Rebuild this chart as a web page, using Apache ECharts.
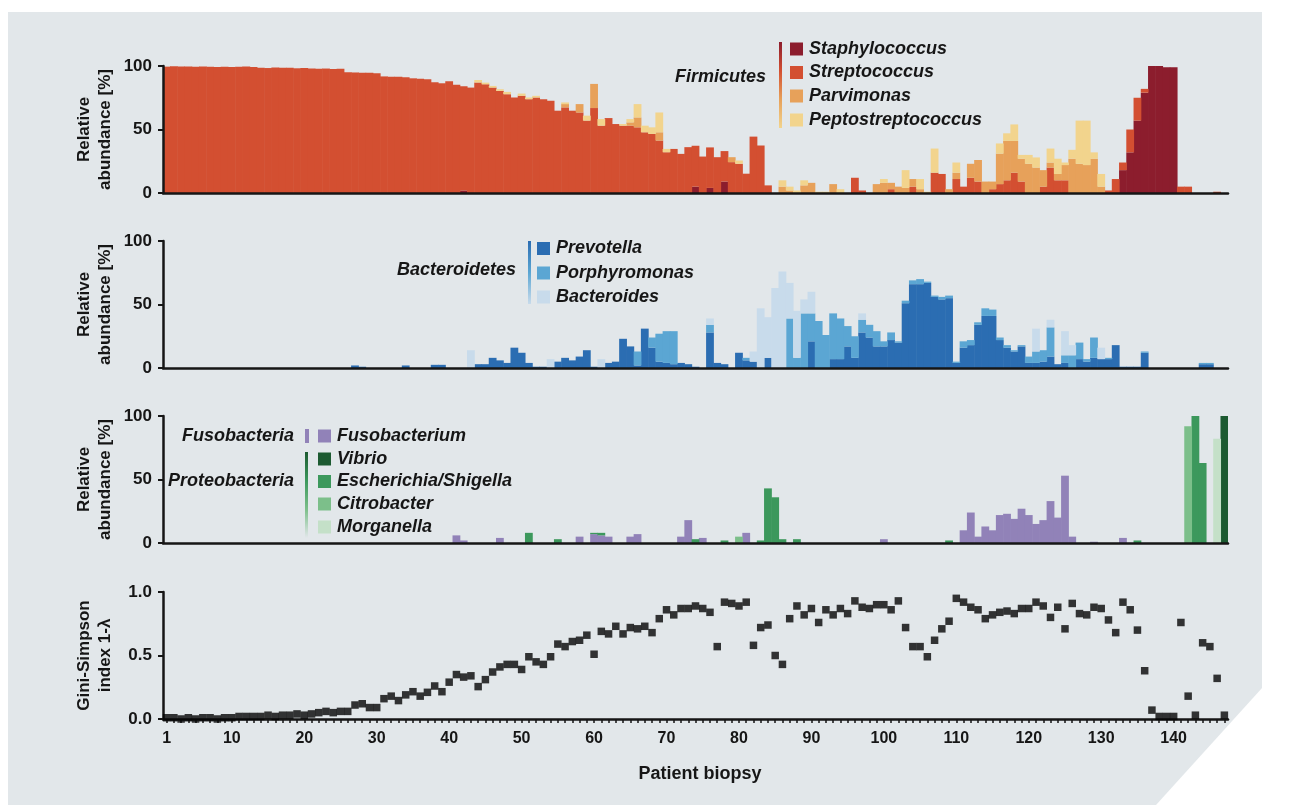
<!DOCTYPE html>
<html>
<head>
<meta charset="utf-8">
<title>Relative abundance and Gini-Simpson index per patient biopsy</title>
<script src="https://cdn.jsdelivr.net/npm/echarts@6/dist/echarts.min.js"></script>
<style>
  html, body { margin: 0; padding: 0; background: #ffffff; }
  #chart { width: 1290px; height: 805px; }
</style>
</head>
<body>
<div id="chart"></div>
<script>
// ---- Data: one value per patient biopsy (1..147), relative abundance in % ----
const biopsies = Array.from({ length: 147 }, (_, i) => String(i + 1));

// Firmicutes
const staphylococcus = [
  0,0,0,0,0,0,0,0,0,0,          // 1-10
  0,0,0,0,0,0,0,0,0,0,          // 11-20
  0,0,0,0,0,0,0,0,0,0,          // 21-30
  0,0,0,0,0,0,0,0,0,0,          // 31-40
  0,2,0,0,0,0,0,0,0,0,          // 41-50
  0,0,0,0,0,0,0,0,0,0,          // 51-60
  0,0,0,0,0,0,0,0,0,0,          // 61-70
  0,0,0,5,0,4,0,9,0,0,          // 71-80
  0,0,0,0,0,0,0,0,0,0,          // 81-90
  0,0,0,0,0,0,0,0,0,0,          // 91-100
  0,0,0,0,0,0,0,0,0,0,          // 101-110
  0,0,0,0,0,0,0,0,0,0,          // 111-120
  0,0,0,0,0,0,0,0,0,0,          // 121-130
  0,0,18,32,57,79,100,100,99,99,// 131-140
  0,0,0,0,0,0,0                 // 141-147
];
const streptococcus = [
  99.5,99.8,99.6,99.7,99.5,99.6,99.4,99.3,99.5,99.2,
  99.4,99.6,99.3,98.6,98.4,98.8,98.7,98.6,98.2,98.4,
  98.1,97.9,98.0,97.7,97.9,95.0,94.9,94.7,94.6,94.3,
  91.8,91.6,91.5,91.2,90.3,90.0,89.6,87.3,86.4,88.0,
  85.2,82.0,83.0,87.0,85.6,83.0,80.4,77.8,75.2,76.5,
  73.9,75.2,73.9,72.6,64.8,67.4,64.8,63.4,57.0,66.9,
  53.0,59.0,54.3,53.0,53.0,51.7,47.8,46.5,41.3,32.1,
  34.7,30.8,36.1,32.2,28.7,31.9,28.2,24.0,24.3,23.0,
  15.2,44.4,37.4,6.0,0,0,0,0,0,0,
  0,0,0,0,0,12,2,0,0,0,
  3,0,0,5,0,0,16,15,0,11,
  5,12,9,0,3,7,10,16,9,0,
  0,5,20,10,10,0,0,0,0,0,
  2,11,6,18,18,3,0,0,0,0,
  5,5,0,0,0,1,0
];
const parvimonas = [
  0,0,0,0,0,0,0,0,0,0,
  0,0,0,0,0,0,0,0,0,0,
  0,0,0,0,0,0,0,0,0,0,
  0,0,0,0,0,0,0,0,0,0,
  0,0,0,0,0,0,0,0,0,0,
  0,0,0,0,0,2.6,0,6.6,0,19,
  0,0,0,0,2.6,7.8,0,0,6.5,0,
  0,0,0,0,0,0,0,0,3.9,0,
  0,0,0,0,0,5,2,0,6,8,
  0,0,7,0,0,0,0,0,7,8,
  5,5,4,6,3,0,0,0,3,5,
  0,11,17,9,6,24,31,25,18,23,
  20,13,4,5,12,27,23,22,27,5,
  0,0,0,0,0,0,0,0,0,0,
  0,0,0,0,0,0,0
];
const peptostreptococcus = [
  0,0,0,0,0,0,0,0,0,0,
  0,0,0,0,0,0,0,0,0,0,
  0,0,0,0,0,0,0,0,0,0,
  0,0,0,0,0,0,0,0,0,0,
  0,0,0,2,1.3,1.3,1.3,1.8,0,1.8,
  1.3,1.3,0,0,0,1.3,0,0,3.9,0,
  5.2,0,0,1.3,2.6,10.5,5.2,5.2,15.6,2.6,
  0,0,0,0,0,0,0,0,0,2.6,
  0,0,0,0,0,5,3,2,4,0,
  1,1,0,3,0,0,0,0,0,3,
  0,0,14,0,8,1,19,0,0,8,
  0,0,0,0,0,8,6,13,3,7,
  8,0,11,12,2,7,34,35,5,10,
  0,0,0,0,0,0,0,0,0,0,
  0,0,0,0,0,0,0
];

// Bacteroidetes
const prevotella = [
  0,0,0,0,0,0,0,0,0,0,
  0,0,0,0,0,0,0,0,0,0,
  0,0,0,0,0,0,2,1,0,0,
  0,0,0,2,0,0,0,2.5,2.5,0,
  0,0,0,3,3,8,6,4,16,12,
  4,1,1,0,5,8,6,9,14,1,
  0,4,5,23,17,2,31,16,5,4,
  3,4,3,1,0,28,4,3,0,12,
  6,5,0,8,0,0,0,0,0,21,
  0,0,7,7,17,8,28,24,17,17,
  22,20,51,66,66,67,56,54,55,4,
  16,18,34,41,41,22,16,13,17,4,
  4,5,9,3,4,0,7,5,8,7,
  7,18,1,1,1,12,0,0,0,0,
  0,0,0,3,3,0,0
];
const porphyromonas = [
  0,0,0,0,0,0,0,0,0,0,
  0,0,0,0,0,0,0,0,0,0,
  0,0,0,0,0,0,0,0,0,0,
  0,0,0,0,0,0,0,0,0,0,
  0,0,0,0,0,0,0,0,0,0,
  0,0,0,0,0,0,0,0,0,0,
  0,0,0,0,0,11,0,8,22,25,
  26,0,0,0,0,6,0,0,0,0,
  2,0,0,0,0,0,39,8,43,22,
  37,26,36,32,16,17,10,10,12,4,
  6,1,2,3,4,1,1,2,2,1,
  5,4,2,6,5,2,2,1,1,5,
  9,9,23,0,6,10,13,2,16,0,
  1,0,0,0,0,1,0,0,0,0,
  0,0,0,1,1,0,0
];
const bacteroides = [
  0,0,0,0,0,0,0,0,0,0,
  0,0,0,0,0,0,0,0,0,0,
  0,0,0,0,0,0,0,0,0,0,
  0,0,0,0,0,0,0,0,0,0,
  0,0,14,0,0,0,0,0,0,0,
  0,0,0,7,0,0,0,0,0,0,
  7,0,0,0,0,0,0,0,0,0,
  0,0,0,0,0,5,0,0,0,0,
  0,8,47,32,63,76,28,37,11,17,
  0,0,0,0,0,0,5,0,0,0,
  0,0,0,0,0,0,0,0,0,0,
  0,0,0,0,0,0,0,0,0,0,
  18,0,6,0,19,8,0,0,0,9,
  0,0,0,0,0,0,0,0,0,0,
  0,0,0,0,0,0,0
];

// Fusobacteria and Proteobacteria
const fusobacterium = [
  0,0,0,0,0,0,0,0,0,0,
  0,0,0,0,0,0,0,0,0,0,
  0,0,0,0,0,0,0,0,0,0,
  0,0,0,0,0,0,0,0,0,0,
  6,2,0,0,0,0,4,0,0,0,
  0,0,0,0,0,0,0,5,0,7,
  6,5,0,0,5,7,0,0,0,0,
  0,5,18,0,4,0,0,0,0,0,
  8,0,0,0,0,0,0,0,0,0,
  0,0,0,0,0,0,0,0,0,3,
  0,0,0,0,0,0,0,0,0,0,
  10,24,5,13,10,22,23,19,27,22,
  15,18,33,20,53,5,0,0,1,0,
  0,0,4,0,0,0,0,0,0,0,
  0,0,0,0,0,0,0
];
const vibrio = [
  0,0,0,0,0,0,0,0,0,0,
  0,0,0,0,0,0,0,0,0,0,
  0,0,0,0,0,0,0,0,0,0,
  0,0,0,0,0,0,0,0,0,0,
  0,0,0,0,0,0,0,0,0,0,
  0,0,0,0,0,0,0,0,0,0,
  0,0,0,0,0,0,0,0,0,0,
  0,0,0,0,0,0,0,0,0,0,
  0,0,0,0,0,0,0,0,0,0,
  0,0,0,0,0,0,0,0,0,0,
  0,0,0,0,0,0,0,0,0,0,
  0,0,0,0,0,0,0,0,0,0,
  0,0,0,0,0,0,0,0,0,0,
  0,0,0,0,0,0,0,0,0,0,
  0,0,0,0,0,0,100
];
const escherichiaShigella = [
  0,0,0,0,0,0,0,0,0,0,
  0,0,0,0,0,0,0,0,0,0,
  0,0,0,0,0,0,0,0,0,0,
  0,0,0,0,0,0,0,0,0,0,
  0,0,0,0,0,0,0,0,0,0,
  8,0,0,0,3,0,0,0,0,1,
  2,0,0,0,0,0,0,0,0,0,
  0,0,0,3,0,0,0,2,0,0,
  0,0,2,43,36,3,0,3,0,0,
  0,0,0,0,0,0,0,0,0,0,
  0,0,0,0,0,0,0,0,2,0,
  0,0,0,0,0,0,0,0,0,0,
  0,0,0,0,0,0,0,0,0,0,
  0,0,0,0,2,0,0,0,0,0,
  0,0,100,63,0,0,0
];
const citrobacter = [
  0,0,0,0,0,0,0,0,0,0,
  0,0,0,0,0,0,0,0,0,0,
  0,0,0,0,0,0,0,0,0,0,
  0,0,0,0,0,0,0,0,0,0,
  0,0,0,0,0,0,0,0,0,0,
  0,0,0,0,0,0,0,0,0,0,
  0,0,0,0,0,0,0,0,0,0,
  0,0,0,0,0,0,0,0,0,5,
  0,0,0,0,0,0,0,0,0,0,
  0,0,0,0,0,0,0,0,0,0,
  0,0,0,0,0,0,0,0,0,0,
  0,0,0,0,0,0,0,0,0,0,
  0,0,0,0,0,0,0,0,0,0,
  0,0,0,0,0,0,0,0,0,0,
  0,92,0,0,0,0,0
];
const morganella = [
  0,0,0,0,0,0,0,0,0,0,
  0,0,0,0,0,0,0,0,0,0,
  0,0,0,0,0,0,0,0,0,0,
  0,0,0,0,0,0,0,0,0,0,
  0,0,0,0,0,0,0,0,0,0,
  0,0,0,0,0,0,0,0,0,0,
  0,0,0,0,0,0,0,0,0,0,
  0,0,0,0,0,0,0,0,0,0,
  0,0,0,0,0,0,0,0,0,0,
  0,0,0,0,0,0,0,0,0,0,
  0,0,0,0,0,0,0,0,0,0,
  0,0,0,0,0,0,0,0,0,0,
  0,0,0,0,0,0,0,0,0,0,
  0,0,0,0,0,0,0,0,0,0,
  0,0,0,0,0,82,0
];

// Diversity (Gini-Simpson index, 1 - lambda)
const giniSimpson = [
  0.01,0.01,0.00,0.01,0.00,0.01,0.01,0.00,0.01,0.01,
  0.02,0.02,0.02,0.02,0.03,0.02,0.03,0.03,0.04,0.03,
  0.04,0.05,0.06,0.05,0.06,0.06,0.11,0.12,0.09,0.09,
  0.16,0.18,0.145,0.19,0.215,0.18,0.21,0.26,0.215,0.29,
  0.35,0.33,0.34,0.255,0.31,0.37,0.41,0.43,0.43,0.39,
  0.49,0.45,0.43,0.49,0.59,0.57,0.61,0.62,0.66,0.51,
  0.69,0.67,0.73,0.67,0.72,0.71,0.73,0.68,0.79,0.86,
  0.82,0.87,0.87,0.89,0.87,0.84,0.57,0.92,0.91,0.89,
  0.92,0.58,0.72,0.74,0.50,0.43,0.79,0.89,0.82,0.87,
  0.76,0.86,0.82,0.87,0.83,0.93,0.88,0.87,0.90,0.90,
  0.86,0.93,0.72,0.57,0.57,0.49,0.62,0.71,0.77,0.95,
  0.92,0.88,0.86,0.79,0.82,0.84,0.85,0.83,0.87,0.87,
  0.92,0.89,0.80,0.88,0.71,0.91,0.83,0.82,0.88,0.87,
  0.78,0.68,0.92,0.86,0.70,0.38,0.07,0.02,0.02,0.02,
  0.76,0.18,0.03,0.60,0.57,0.32,0.03
];

// Tick labels shown on the biopsy axis, and value-axis ticks
const biopsyTickLabels = ['1','10','20','30','40','50','60','70','80','90','100','110','120','130','140'];
const abundanceTicks = [0, 50, 100];
const diversityTicks = [0, 0.5, 1];

// ---- Styling ----
const FONT = '"Liberation Sans", Arial, Helvetica, sans-serif';
const INK = '#161616';
const COLORS = {
  staphylococcus: '#8c1d2d',
  streptococcus: '#d34f31',
  parvimonas: '#e7a15a',
  peptostreptococcus: '#f2d48d',
  prevotella: '#2b6db2',
  porphyromonas: '#5ba6d3',
  bacteroides: '#c8dbeb',
  fusobacterium: '#9182b8',
  vibrio: '#1c5a31',
  escherichia: '#3c985c',
  citrobacter: '#7cbf8a',
  morganella: '#c4e0c8'
};
const PANEL_BG = '#e2e7ea';

const PANEL_TOPS = [66, 241, 416, 592];
const PANEL_H = 127;
const GRID_LEFT = 163;
const GRID_RIGHT = 62;

const chart = echarts.init(document.getElementById('chart'), null, { renderer: 'canvas' });

const grids = PANEL_TOPS.map(top => ({ left: GRID_LEFT, right: GRID_RIGHT, top: top, height: PANEL_H }));

const xAxes = [0, 1, 2, 3].map(i => ({
  type: 'category',
  gridIndex: i,
  data: biopsies,
  boundaryGap: true,
  z: 6,
  axisLine: { show: true, onZero: false, lineStyle: { color: INK, width: 2.5 } },
  axisTick: i === 3
    ? { show: true, interval: 0, alignWithLabel: true, length: 4, lineStyle: { color: INK, width: 1.5 } }
    : { show: false },
  axisLabel: i === 3
    ? {
        show: true,
        interval: (idx, val) => biopsyTickLabels.indexOf(val) !== -1,
        margin: 12, color: INK, fontSize: 16, fontWeight: 'bold', fontFamily: FONT
      }
    : { show: false },
  splitLine: { show: false }
}));

const yAxes = [0, 1, 2, 3].map(i => {
  const ticks = i === 3 ? diversityTicks : abundanceTicks;
  const label = { color: INK, fontSize: 17, fontWeight: 'bold', fontFamily: FONT, margin: 11 };
  if (i === 3) label.formatter = v => v.toFixed(1);
  return {
    type: 'value',
    gridIndex: i,
    min: ticks[0],
    max: ticks[ticks.length - 1],
    interval: ticks[1] - ticks[0],
    z: 6,
    axisLine: { show: true, lineStyle: { color: INK, width: 2.5 } },
    axisTick: { show: true, length: 5, lineStyle: { color: INK, width: 2 } },
    axisLabel: label,
    splitLine: { show: false }
  };
});

function barSeries(name, data, color, panel) {
  return {
    name: name, type: 'bar', stack: 'panel' + panel,
    xAxisIndex: panel, yAxisIndex: panel,
    data: data, barWidth: 7.8,
    itemStyle: { color: color },
    silent: true, animation: false
  };
}

const series = [
  barSeries('Staphylococcus', staphylococcus, COLORS.staphylococcus, 0),
  barSeries('Streptococcus', streptococcus, COLORS.streptococcus, 0),
  barSeries('Parvimonas', parvimonas, COLORS.parvimonas, 0),
  barSeries('Peptostreptococcus', peptostreptococcus, COLORS.peptostreptococcus, 0),
  barSeries('Prevotella', prevotella, COLORS.prevotella, 1),
  barSeries('Porphyromonas', porphyromonas, COLORS.porphyromonas, 1),
  barSeries('Bacteroides', bacteroides, COLORS.bacteroides, 1),
  barSeries('Fusobacterium', fusobacterium, COLORS.fusobacterium, 2),
  barSeries('Vibrio', vibrio, COLORS.vibrio, 2),
  barSeries('Escherichia/Shigella', escherichiaShigella, COLORS.escherichia, 2),
  barSeries('Citrobacter', citrobacter, COLORS.citrobacter, 2),
  barSeries('Morganella', morganella, COLORS.morganella, 2),
  {
    name: 'Gini-Simpson', type: 'scatter',
    xAxisIndex: 3, yAxisIndex: 3,
    data: giniSimpson,
    symbol: 'rect', symbolSize: 7.5,
    itemStyle: { color: '#050505' },
    clip: false, silent: true, animation: false, z: 7
  }
];

// ---- Annotation helpers (legends, axis titles, background) ----
const LEGEND_FONT = 'italic bold 18px ' + FONT;
const TITLE_FONT = 'bold 17px ' + FONT;

function legendRow(x, yc, color, label) {
  return [
    { type: 'rect', silent: true, shape: { x: x, y: yc - 6.5, width: 13, height: 13 }, style: { fill: color } },
    { type: 'text', silent: true, x: x + 19, y: yc,
      style: { text: label, fill: INK, font: LEGEND_FONT, textAlign: 'left', textVerticalAlign: 'middle' } }
  ];
}
function groupLabel(xRight, yc, label) {
  return { type: 'text', silent: true, x: xRight, y: yc,
    style: { text: label, fill: INK, font: LEGEND_FONT, textAlign: 'right', textVerticalAlign: 'middle' } };
}
function gradientBar(x, y, w, h, stops) {
  return { type: 'rect', silent: true, shape: { x: x, y: y, width: w, height: h },
    style: { fill: new echarts.graphic.LinearGradient(0, 0, 0, 1, stops.map((c, i) => ({ offset: i / (stops.length - 1), color: c }))) } };
}
function axisTitle(yc, text) {
  return { type: 'text', silent: true, x: 95, y: yc, rotation: Math.PI / 2,
    style: { text: text, fill: INK, font: TITLE_FONT, textAlign: 'center', textVerticalAlign: 'middle', lineHeight: 21 } };
}

const graphics = [
  { type: 'polygon', silent: true, z: -100,
    shape: { points: [[8, 12], [1262, 12], [1262, 688], [1156, 805], [8, 805]] },
    style: { fill: PANEL_BG } },

  // Firmicutes legend
  gradientBar(779, 42, 3, 86, [COLORS.staphylococcus, COLORS.streptococcus, COLORS.parvimonas, COLORS.peptostreptococcus]),
  groupLabel(766, 77, 'Firmicutes'),
  ...legendRow(790, 49, COLORS.staphylococcus, 'Staphylococcus'),
  ...legendRow(790, 72.5, COLORS.streptococcus, 'Streptococcus'),
  ...legendRow(790, 96, COLORS.parvimonas, 'Parvimonas'),
  ...legendRow(790, 120, COLORS.peptostreptococcus, 'Peptostreptococcus'),

  // Bacteroidetes legend
  gradientBar(528, 241, 3, 63, [COLORS.prevotella, COLORS.porphyromonas, COLORS.bacteroides]),
  groupLabel(516, 270, 'Bacteroidetes'),
  ...legendRow(537, 248.5, COLORS.prevotella, 'Prevotella'),
  ...legendRow(537, 273, COLORS.porphyromonas, 'Porphyromonas'),
  ...legendRow(537, 297, COLORS.bacteroides, 'Bacteroides'),

  // Fusobacteria / Proteobacteria legend
  { type: 'rect', silent: true, shape: { x: 305, y: 429, width: 4, height: 14 }, style: { fill: COLORS.fusobacterium } },
  groupLabel(294, 436, 'Fusobacteria'),
  ...legendRow(318, 436, COLORS.fusobacterium, 'Fusobacterium'),
  gradientBar(305, 452, 3, 86, [COLORS.vibrio, COLORS.escherichia, COLORS.citrobacter, PANEL_BG]),
  groupLabel(294, 481, 'Proteobacteria'),
  ...legendRow(318, 459, COLORS.vibrio, 'Vibrio'),
  ...legendRow(318, 481.5, COLORS.escherichia, 'Escherichia/Shigella'),
  ...legendRow(318, 504, COLORS.citrobacter, 'Citrobacter'),
  ...legendRow(318, 527, COLORS.morganella, 'Morganella'),

  // Axis titles
  axisTitle(PANEL_TOPS[0] + PANEL_H / 2, 'Relative\nabundance [%]'),
  axisTitle(PANEL_TOPS[1] + PANEL_H / 2, 'Relative\nabundance [%]'),
  axisTitle(PANEL_TOPS[2] + PANEL_H / 2, 'Relative\nabundance [%]'),
  axisTitle(PANEL_TOPS[3] + PANEL_H / 2, 'Gini-Simpson\nindex 1-\u03bb'),
  { type: 'text', silent: true, x: 700, y: 774,
    style: { text: 'Patient biopsy', fill: INK, font: 'bold 18px ' + FONT, textAlign: 'center', textVerticalAlign: 'middle' } }
];

chart.setOption({
  backgroundColor: '#ffffff',
  animation: false,
  grid: grids,
  xAxis: xAxes,
  yAxis: yAxes,
  series: series,
  graphic: { elements: graphics }
});
</script>
</body>
</html>
